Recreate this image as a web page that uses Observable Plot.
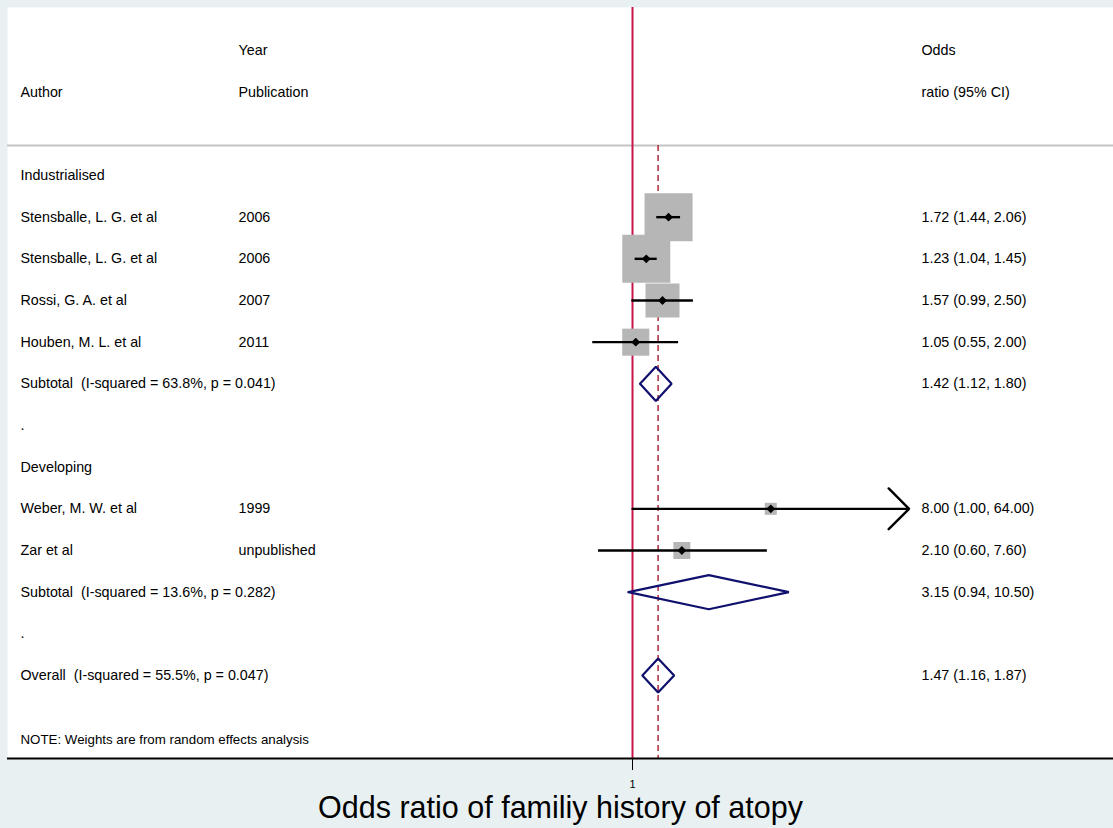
<!DOCTYPE html>
<html>
<head>
<meta charset="utf-8">
<script src="https://cdn.jsdelivr.net/npm/d3@7"></script>
<script src="https://cdn.jsdelivr.net/npm/@observablehq/plot@0.6"></script>
<style>
  html, body { margin: 0; padding: 0; background: #e8f0f2; }
  #chart svg { display: block; }
</style>
</head>
<body>
<div id="chart"></div>
<script>
// ---- data ----
const labels = [
  "Industrialised",
  "Stensballe, L. G. et al",
  "Stensballe, L. G. et al",
  "Rossi, G. A. et al",
  "Houben, M. L. et al",
  "Subtotal\u00a0 (I-squared = 63.8%, p = 0.041)",
  ".",
  "Developing",
  "Weber, M. W. et al",
  "Zar et al",
  "Subtotal\u00a0 (I-squared = 13.6%, p = 0.282)",
  ".",
  "Overall\u00a0 (I-squared = 55.5%, p = 0.047)"
];
const years = ["", "2006", "2006", "2007", "2011", "", "", "", "1999", "unpublished", "", "", ""];
const kinds = ["head", "study", "study", "study", "study", "pooled", "blank", "head", "study", "study", "pooled", "blank", "pooled"];
const oddsRatio = [null, 1.72, 1.23, 1.57, 1.05, 1.42, null, null, 8.00, 2.10, 3.15, null, 1.47];
const ciLower   = [null, 1.44, 1.04, 0.99, 0.55, 1.12, null, null, 1.00, 0.60, 0.94, null, 1.16];
const ciUpper   = [null, 2.06, 1.45, 2.50, 2.00, 1.80, null, null, 64.00, 7.60, 10.50, null, 1.87];
const weights   = [null, 33.7, 33.7, 16.9, 10.7, null, null, null, 2.1, 4.2, null, null, null];
const headerTop = ["Year", "Odds"];
const headerBottom = ["Author", "Publication", "ratio (95% CI)"];
const note = "NOTE: Weights are from random effects analysis";
const xTitle = "Odds ratio of familiy history of atopy";
const xTicks = [1];
const axisMax = 64; // CI clipped / arrow beyond this

// ---- layout rows (in row units) ----
const headerRowTop = -3, headerRowBottom = -2, headerLineRow = -0.72, noteRow = 13.54, bottomRow = 13.99;

const rows = labels.map((label, i) => ({
  i, label, year: years[i], kind: kinds[i],
  or: oddsRatio[i], lo: ciLower[i], hi: ciUpper[i], w: weights[i],
  txt: oddsRatio[i] == null ? "" :
    `${oddsRatio[i].toFixed(2)} (${ciLower[i].toFixed(2)}, ${ciUpper[i].toFixed(2)})`
}));
const studies = rows.filter(d => d.kind === "study");
const ciNormal = studies.filter(d => d.hi < axisMax);
const ciArrow = studies.filter(d => d.hi >= axisMax);
const pooled = rows.filter(d => d.kind === "pooled");
const overall = pooled[pooled.length - 1];
const dh = 0.41;
const diamondPts = pooled.flatMap(d => [
  {id: d.i, x: d.lo, y: d.i},
  {id: d.i, x: d.or, y: d.i - dh},
  {id: d.i, x: d.hi, y: d.i},
  {id: d.i, x: d.or, y: d.i + dh},
  {id: d.i, x: d.lo, y: d.i}
]);

const colLeft = 13, colYear = 231, colOR = 914;
const navy = "#10106e";

const chart = Plot.plot({
  width: 1113,
  height: 828,
  marginTop: 7, marginLeft: 7, marginRight: 0, marginBottom: 70,
  style: {background: "#e8f0f2", fontFamily: "'Liberation Sans', Arial, sans-serif", fontSize: "14.3px", color: "black"},
  x: {type: "log", domain: [1, 8], range: [632, 632 + 66.5 * Math.log(8)]},
  y: {domain: [-3, 12], range: [50, 675], axis: null},
  r: {type: "sqrt", domain: [0, 33.7], range: [0, 27.1]},
  marks: [
    Plot.frame({fill: "white", stroke: "none"}),
    Plot.ruleY([headerLineRow], {stroke: "#c4c4c4", strokeWidth: 2}),
    Plot.ruleX([1], {stroke: "#c8164a", strokeWidth: 2}),
    Plot.ruleX([overall.or], {y1: headerLineRow, y2: bottomRow, stroke: "#b03848", strokeWidth: 1.6, strokeDasharray: "6,4"}),
    Plot.ruleY([bottomRow], {stroke: "black", strokeWidth: 2}),
    // weight boxes
    Plot.dot(studies, {x: "or", y: "i", r: "w", symbol: "square", fill: "#b6b6b6", stroke: "none"}),
    // confidence intervals
    Plot.ruleY(ciNormal, {y: "i", x1: "lo", x2: "hi", stroke: "black", strokeWidth: 2.4}),
    Plot.arrow(ciArrow, {x1: "lo", x2: d => axisMax, y1: "i", y2: "i", stroke: "black", strokeWidth: 2.4, headAngle: 90, headLength: 18}),
    // point estimates
    Plot.dot(studies, {x: "or", y: "i", r: 4, symbol: "diamond2", fill: "black", stroke: "none"}),
    // pooled diamonds
    Plot.line(diamondPts, {x: "x", y: "y", z: "id", stroke: navy, strokeWidth: 2.2, strokeLinejoin: "miter"}),
    // header text
    Plot.text([headerTop[0]], {y: () => headerRowTop, text: d => d, frameAnchor: "left", dx: colYear, textAnchor: "start"}),
    Plot.text([headerTop[1]], {y: () => headerRowTop, text: d => d, frameAnchor: "left", dx: colOR, textAnchor: "start"}),
    Plot.text([headerBottom[0]], {y: () => headerRowBottom, text: d => d, frameAnchor: "left", dx: colLeft, textAnchor: "start"}),
    Plot.text([headerBottom[1]], {y: () => headerRowBottom, text: d => d, frameAnchor: "left", dx: colYear, textAnchor: "start"}),
    Plot.text([headerBottom[2]], {y: () => headerRowBottom, text: d => d, frameAnchor: "left", dx: colOR, textAnchor: "start"}),
    // row text
    Plot.text(rows, {y: "i", text: "label", frameAnchor: "left", dx: colLeft, textAnchor: "start"}),
    Plot.text(rows, {y: "i", text: "year", frameAnchor: "left", dx: colYear, textAnchor: "start"}),
    Plot.text(rows, {y: "i", text: "txt", frameAnchor: "left", dx: colOR, textAnchor: "start"}),
    Plot.text([note], {y: () => noteRow, text: d => d, frameAnchor: "left", dx: colLeft, textAnchor: "start", fontSize: 13.3}),
    // x axis
    Plot.axisX({ticks: xTicks, tickFormat: d => String(d), tickSize: 12, tickPadding: 10, fontSize: 11, stroke: "black", label: null}),
    Plot.text([xTitle], {frameAnchor: "bottom", dy: 59, text: d => d, fontSize: 30.5})
  ]
});
document.getElementById("chart").appendChild(chart);
</script>
</body>
</html>
